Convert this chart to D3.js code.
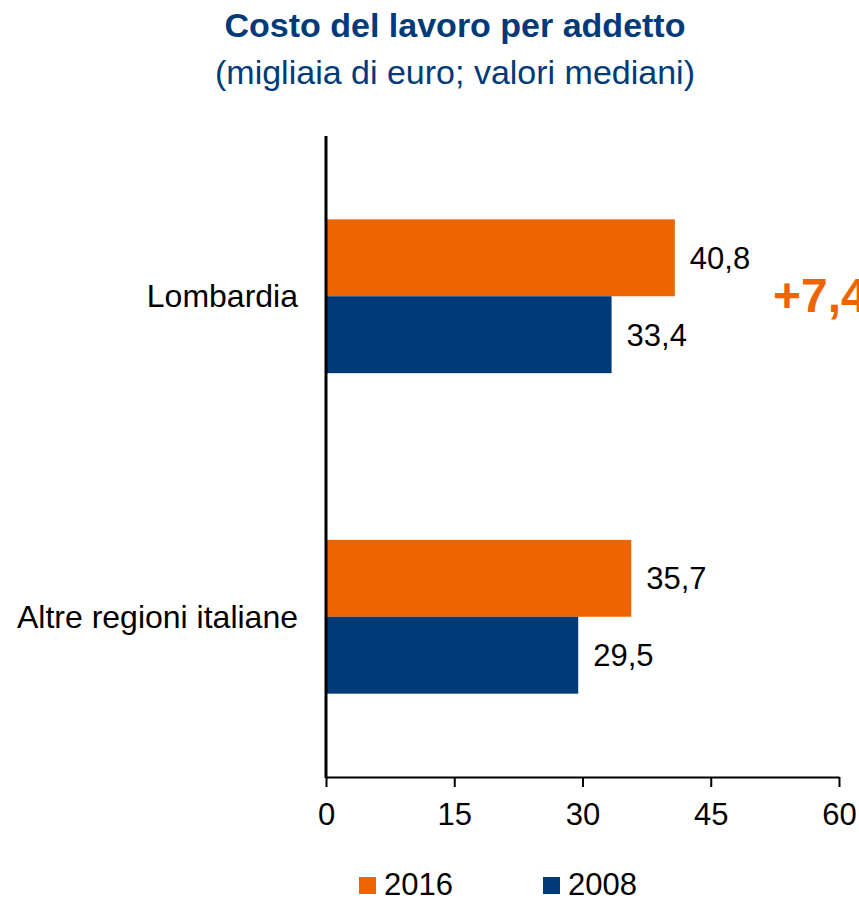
<!DOCTYPE html>
<html>
<head>
<meta charset="utf-8">
<script src="https://cdn.jsdelivr.net/npm/d3@7"></script>
<style>
  body { margin: 0; background: #fff; }
  text { font-family: "Liberation Sans", Arial, sans-serif; }
</style>
</head>
<body>
<svg id="chart"></svg>
<script>
const categories = ["Lombardia", "Altre regioni italiane"];
const years = ["2016", "2008"];
const values2016 = [40.8, 35.7];
const values2008 = [33.4, 29.5];
const xTicks = [0, 15, 30, 45, 60];
const deltaLabel = "+7,4";

const width = 859;
const height = 900;
const orange = "#ec6500";
const blue = "#003a78";

const svg = d3.select("#chart")
    .attr("width", width)
    .attr("height", height);

const x = d3.scaleLinear().domain([0, 60]).range([326, 839]);
const y = d3.scaleBand().domain(categories).range([136, 777]).paddingInner(0.52).paddingOuter(0.26);
const ySub = d3.scaleBand().domain(years).range([0, y.bandwidth()]);

const color = d3.scaleOrdinal().domain(years).range([orange, blue]);

// title
svg.append("text")
    .attr("x", 455).attr("y", 37)
    .attr("text-anchor", "middle")
    .attr("font-size", 34).attr("font-weight", "bold")
    .attr("fill", blue)
    .text("Costo del lavoro per addetto");

svg.append("text")
    .attr("x", 455).attr("y", 84)
    .attr("text-anchor", "middle")
    .attr("font-size", 34)
    .attr("fill", blue)
    .text("(migliaia di euro; valori mediani)");

const rows = categories.map((c, i) => ({
    cat: c,
    bars: [{ year: "2016", v: values2016[i] }, { year: "2008", v: values2008[i] }]
}));

const g = svg.selectAll(".cat")
    .data(rows)
    .enter().append("g")
    .attr("transform", d => `translate(0,${y(d.cat)})`);

g.selectAll("rect")
    .data(d => d.bars)
    .enter().append("rect")
    .attr("x", x(0))
    .attr("y", d => ySub(d.year))
    .attr("width", d => x(d.v) - x(0))
    .attr("height", ySub.bandwidth())
    .attr("fill", d => color(d.year));

g.selectAll(".val")
    .data(d => d.bars)
    .enter().append("text")
    .attr("x", d => x(d.v) + 15)
    .attr("y", d => ySub(d.year) + ySub.bandwidth() / 2 + 11)
    .attr("font-size", 31)
    .attr("fill", "#000")
    .text(d => d3.format(".1f")(d.v).replace(".", ","));

// category labels
svg.selectAll(".catlab")
    .data(categories)
    .enter().append("text")
    .attr("x", 298)
    .attr("y", d => y(d) + y.bandwidth() / 2 + 11)
    .attr("text-anchor", "end")
    .attr("font-size", 32)
    .attr("fill", "#000")
    .text(d => d);

// x axis
const xAxis = svg.append("g")
    .attr("transform", "translate(0,777)")
    .call(d3.axisBottom(x).tickValues(xTicks).tickSize(10).tickPadding(16).tickSizeOuter(0));
xAxis.select(".domain").attr("stroke", "#000").attr("stroke-width", 2);
xAxis.selectAll(".tick line").attr("stroke", "#000").attr("stroke-width", 2);
xAxis.selectAll(".tick text")
    .attr("font-size", 31)
    .attr("font-family", "Liberation Sans, Arial, sans-serif")
    .attr("fill", "#000");

// y axis line
svg.append("line")
    .attr("x1", x(0)).attr("x2", x(0))
    .attr("y1", 136).attr("y2", 778)
    .attr("stroke", "#000").attr("stroke-width", 3);

// delta annotation (cut by the right edge, as in the original)
svg.append("text")
    .attr("x", 773).attr("y", 312)
    .attr("font-size", 48).attr("font-weight", "bold")
    .attr("fill", orange)
    .text(deltaLabel);

// legend
const legend = svg.selectAll(".leg")
    .data(years)
    .enter().append("g")
    .attr("transform", (d, i) => `translate(${359 + i * 184},877)`);
legend.append("rect")
    .attr("width", 17).attr("height", 17)
    .attr("fill", d => color(d));
legend.append("text")
    .attr("x", 25).attr("y", 18)
    .attr("font-size", 31)
    .attr("fill", "#000")
    .text(d => d);
</script>
</body>
</html>
